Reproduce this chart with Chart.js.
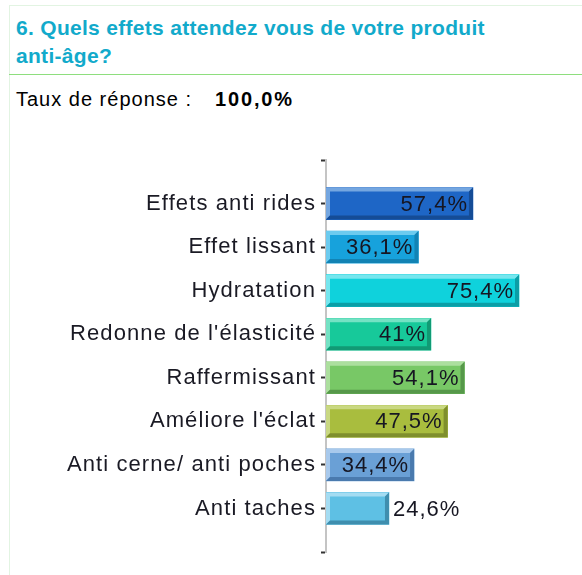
<!DOCTYPE html>
<html>
<head>
<meta charset="utf-8">
<script src="https://cdn.jsdelivr.net/npm/chart.js@4.4.1/dist/chart.umd.min.js"></script>
<style>
  html, body { margin: 0; padding: 0; background: #fff; }
  body { width: 582px; height: 575px; position: relative; overflow: hidden; font-family: "Liberation Sans", Arial, sans-serif; }
  .frame { position: absolute; left: 9px; top: 5px; right: -2px; bottom: -2px; border-left: 1px solid #e2f4e2; border-top: 1px solid #e2f4e2; }
  .title { position: absolute; left: 16px; top: 14px; width: 560px; color: #12aacb; font-weight: bold; font-size: 21px; line-height: 28px; letter-spacing: 0.3px; white-space: nowrap; }
  .rule { position: absolute; left: 9px; top: 74px; width: 573px; height: 0; border-top: 1px solid #8ede7e; }
  .rate { position: absolute; left: 16px; top: 88px; font-size: 20px; letter-spacing: 1px; color: #000; white-space: nowrap; }
  .rate b { font-weight: bold; letter-spacing: 1.8px; margin-left: 10px; }
  #wrap { position: absolute; left: 0; top: 150px; width: 582px; height: 425px; }
</style>
</head>
<body>
<div class="frame"></div>
<div class="title">6. Quels effets attendez vous de votre produit<br>anti-âge?</div>
<div class="rule"></div>
<div class="rate">Taux de réponse :&nbsp; <b>100,0%</b></div>
<div id="wrap"><canvas id="chartBar"></canvas></div>

<script>
const categories = [
  "Effets anti rides",
  "Effet lissant",
  "Hydratation",
  "Redonne de l'élasticité",
  "Raffermissant",
  "Améliore l'éclat",
  "Anti cerne/ anti poches",
  "Anti taches",
];
const values = [57.4, 36.1, 75.4, 41, 54.1, 47.5, 34.4, 24.6];
const valueLabels = ["57,4%", "36,1%", "75,4%", "41%", "54,1%", "47,5%", "34,4%", "24,6%"];

// face / light bevel / dark bevel for each bar
const faceColors = ["#1e66c6", "#17a2dc", "#0fd2dc", "#17c99a", "#78c866", "#a9bd3e", "#6aa0d6", "#5ec0e4"];
const lightColors = ["#74a6e0", "#6ccbef", "#76e6ee", "#74e2c4", "#acdf9e", "#c9d882", "#a8c9ec", "#a4dcf2"];
const darkColors = ["#154c96", "#1283b4", "#0b9ea6", "#119a74", "#56984a", "#7f8f2c", "#4a7aae", "#3f8eae"];

// empty slots at both ends so the axis ticks sit above and below the bars
const labels = [""].concat(categories, [""]);
const data = [null].concat(values, [null]);

const FONT = "'Liberation Sans', Arial, sans-serif";

const spacingPlugin = {
  id: "spacing",
  beforeDraw(chart) { chart.ctx.letterSpacing = "1.1px"; },
  afterDraw(chart) { chart.ctx.letterSpacing = "0px"; },
};

const bevelPlugin = {
  id: "bevel",
  afterDatasetsDraw(chart) {
    const ctx = chart.ctx;
    const meta = chart.getDatasetMeta(0);
    meta.data.forEach((bar, i) => {
      if (data[i] == null) return;
      const k = i - 1;
      const left = bar.base, right = bar.x;
      const top = bar.y - bar.height / 2, bottom = bar.y + bar.height / 2;
      const b = 4;
      ctx.save();
      // light top and left edges
      ctx.fillStyle = lightColors[k];
      ctx.beginPath();
      ctx.moveTo(left, top);
      ctx.lineTo(right, top);
      ctx.lineTo(right - b, top + b);
      ctx.lineTo(left + b, top + b);
      ctx.lineTo(left + b, bottom - b);
      ctx.lineTo(left, bottom);
      ctx.closePath();
      ctx.fill();
      // dark bottom and right edges
      ctx.fillStyle = darkColors[k];
      ctx.beginPath();
      ctx.moveTo(left, bottom);
      ctx.lineTo(right, bottom);
      ctx.lineTo(right, top);
      ctx.lineTo(right - b, top + b);
      ctx.lineTo(right - b, bottom - b);
      ctx.lineTo(left + b, bottom - b);
      ctx.closePath();
      ctx.fill();

      // value label
      ctx.letterSpacing = "1px";
      ctx.font = "22px " + FONT;
      ctx.fillStyle = "#161622";
      ctx.textBaseline = "middle";
      const txt = valueLabels[k];
      const w = ctx.measureText(txt).width;
      if (w + 8 < right - left) {
        ctx.textAlign = "right";
        ctx.fillText(txt, right - 5, bar.y + 1);
      } else {
        ctx.textAlign = "left";
        ctx.fillText(txt, right + 4, bar.y + 1);
      }
      ctx.restore();
    });
  }
};

new Chart(document.getElementById("chartBar"), {
  type: "bar",
  data: {
    labels: labels,
    datasets: [{
      data: data,
      backgroundColor: [null].concat(faceColors, [null]),
      borderWidth: 0,
      barThickness: 32,
    }],
  },
  options: {
    indexAxis: "y",
    responsive: true,
    maintainAspectRatio: false,
    animation: false,
    layout: { padding: { top: 10, bottom: 23, left: 0, right: 0 } },
    plugins: { legend: { display: false }, tooltip: { enabled: false } },
    scales: {
      x: {
        display: false,
        min: 0,
        max: 100,
      },
      y: {
        offset: false,
        grid: { offset: false, drawOnChartArea: false, drawTicks: true, tickLength: 5, tickColor: "#333", tickWidth: 2 },
        border: { color: "#c4c4c4", width: 2 },
        ticks: {
          autoSkip: false,
          padding: 5,
          color: "#1a1a24",
          font: { family: FONT, size: 22 },
        },
        afterFit(scale) {
          scale.width = 326;
          scale.paddingTop = 0;
          scale.paddingBottom = 0;
        },
      },
    },
  },
  plugins: [spacingPlugin, bevelPlugin],
});
</script>
</body>
</html>
